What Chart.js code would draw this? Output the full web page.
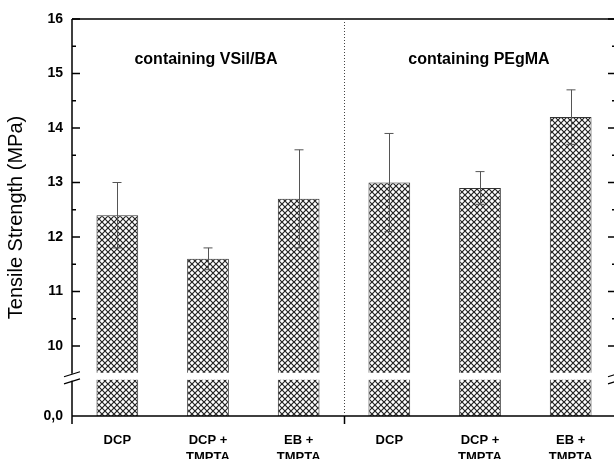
<!DOCTYPE html>
<html>
<head>
<meta charset="utf-8">
<script src="https://cdn.jsdelivr.net/npm/chart.js@4.4.1/dist/chart.umd.min.js"></script>
<style>
  html, body { margin: 0; padding: 0; background: #fff; overflow: hidden; }
  canvas { display: block; }
</style>
</head>
<body>
<canvas id="tensileChart" width="630" height="459"></canvas>
<script>
// === DATA ===
const categories = ["DCP", ["DCP +", "TMPTA"], ["EB +", "TMPTA"], "DCP", ["DCP +", "TMPTA"], ["EB +", "TMPTA"]];
const strength = [12.4, 11.6, 12.7, 13.0, 12.9, 14.2];
const strengthErr = [0.6, 0.2, 0.9, 0.9, 0.3, 0.5];
const groupLabels = ["containing VSil/BA", "containing PEgMA"];
const tickValues = [8.716, 10, 11, 12, 13, 14, 15, 16];
const tickLabels = ["0,0", "10", "11", "12", "13", "14", "15", "16"];
const minorTicks = [10.5, 11.5, 12.5, 13.5, 14.5, 15.5];
const breakLow = 9.38;
const breakHigh = 9.51;

// === HATCH PATTERN ===
function makeHatch() {
  const c = document.createElement("canvas");
  c.width = 6;
  c.height = 6;
  const p = c.getContext("2d");
  p.fillStyle = "#fff";
  p.fillRect(0, 0, 6, 6);
  p.strokeStyle = "#222";
  p.lineWidth = 1.2;
  p.beginPath();
  p.moveTo(-1, -1); p.lineTo(7, 7);
  p.moveTo(7, -1); p.lineTo(-1, 7);
  p.stroke();
  return p.createPattern(c, "repeat");
}
const ctx = document.getElementById("tensileChart").getContext("2d");
const hatch = makeHatch();

// === AXES, BREAK, ERROR BARS ===
const framePlugin = {
  id: "frame",
  afterDatasetsDraw(chart) {
    const c = chart.ctx;
    const a = chart.chartArea;
    const y = chart.scales.y;
    const meta = chart.getDatasetMeta(0);
    // white gap for the axis break
    const gTop = y.getPixelForValue(breakHigh);
    const gBot = y.getPixelForValue(breakLow);
    c.save();
    c.fillStyle = "#fff";
    c.fillRect(a.left + 1, gTop, a.right - a.left - 2, gBot - gTop);
    // error bars
    c.strokeStyle = "#555";
    c.lineWidth = 1;
    meta.data.forEach((bar, i) => {
      const x = Math.round(bar.x) + 0.5;
      const t = y.getPixelForValue(strength[i] + strengthErr[i]);
      const b = y.getPixelForValue(strength[i] - strengthErr[i]);
      c.beginPath();
      c.moveTo(x, t); c.lineTo(x, b);
      c.moveTo(x - 5, t); c.lineTo(x + 4, t);
      c.moveTo(x - 5, b); c.lineTo(x + 4, b);
      c.stroke();
    });
    c.restore();
  },
  afterDraw(chart) {
    const c = chart.ctx;
    const a = chart.chartArea;
    const y = chart.scales.y;
    const x = chart.scales.x;
    const gTop = y.getPixelForValue(breakHigh);
    const gBot = y.getPixelForValue(breakLow);
    c.save();
    c.strokeStyle = "#000";
    c.lineWidth = 1.5;
    // top and bottom frame
    c.beginPath();
    c.moveTo(a.left, a.top); c.lineTo(a.right, a.top);
    c.moveTo(a.left, a.bottom); c.lineTo(a.right, a.bottom);
    // side axes with break
    [a.left, a.right].forEach((px) => {
      c.moveTo(px, a.top); c.lineTo(px, gTop + 1);
      c.moveTo(px, gBot + 1); c.lineTo(px, a.bottom + 8);
    });
    c.stroke();
    // break slashes
    c.lineWidth = 1.2;
    c.beginPath();
    [a.left, a.right].forEach((px) => {
      c.moveTo(px - 8, gTop + 4); c.lineTo(px + 8, gTop - 1);
      c.moveTo(px - 8, gBot + 4); c.lineTo(px + 8, gBot - 1);
    });
    c.stroke();
    // inward ticks
    c.lineWidth = 1.5;
    c.beginPath();
    tickValues.slice(1).forEach((v) => {
      const py = y.getPixelForValue(v);
      c.moveTo(a.left, py); c.lineTo(a.left + 8, py);
      c.moveTo(a.right, py); c.lineTo(a.right - 8, py);
    });
    minorTicks.forEach((v) => {
      const py = y.getPixelForValue(v);
      c.moveTo(a.left, py); c.lineTo(a.left + 4, py);
      c.moveTo(a.right, py); c.lineTo(a.right - 4, py);
    });
    // group separator tick below axis
    const sep = Math.round((x.getPixelForValue(2) + x.getPixelForValue(3)) / 2) + 0.5;
    c.moveTo(sep, a.bottom); c.lineTo(sep, a.bottom + 8);
    c.stroke();
    // dotted separator
    c.lineWidth = 1;
    c.strokeStyle = "#444";
    c.setLineDash([1, 2]);
    c.beginPath();
    c.moveTo(sep, a.top); c.lineTo(sep, a.bottom);
    c.stroke();
    c.setLineDash([]);
    // group labels
    c.fillStyle = "#000";
    c.font = "bold 16px 'Liberation Sans', Arial, sans-serif";
    c.textAlign = "center";
    c.textBaseline = "middle";
    const ly = y.getPixelForValue(15.26);
    c.fillText(groupLabels[0], x.getPixelForValue(1) - 2, ly);
    c.fillText(groupLabels[1], x.getPixelForValue(4) - 1, ly);
    c.restore();
  },
};

// === CHART ===
const tensileChart = new Chart(ctx, {
  type: "bar",
  data: {
    labels: categories,
    datasets: [
      {
        data: strength,
        backgroundColor: hatch,
        borderColor: "#333",
        borderWidth: 1,
        barPercentage: 0.46,
        categoryPercentage: 1,
      },
    ],
  },
  options: {
    responsive: false,
    animation: false,
    layout: { padding: { top: 19, right: 14, left: 0, bottom: 0 } },
    plugins: {
      legend: { display: false },
      tooltip: { enabled: false },
    },
    scales: {
      y: {
        min: tickValues[0],
        max: 16,
        grid: { display: false, drawTicks: false },
        border: { display: false },
        afterFit: (s) => { s.width = 72; },
        afterBuildTicks: (s) => { s.ticks = tickValues.map((v) => ({ value: v })); },
        ticks: {
          padding: 9,
          color: "#000",
          font: { family: "'Liberation Sans', Arial, sans-serif", size: 14, weight: "bold" },
          callback: (v, i) => tickLabels[i],
        },
        title: {
          display: true,
          text: "Tensile Strength (MPa)",
          color: "#000",
          font: { family: "'Liberation Sans', Arial, sans-serif", size: 20 },
          padding: { top: 4, bottom: 0 },
        },
      },
      x: {
        grid: { display: false, drawTicks: false },
        border: { display: false },
        afterFit: (s) => { s.height = 43; },
        ticks: {
          padding: 16,
          maxRotation: 0,
          autoSkip: false,
          color: "#000",
          font: { family: "'Liberation Sans', Arial, sans-serif", size: 13, weight: "bold", lineHeight: 1.3 },
        },
      },
    },
  },
  plugins: [framePlugin],
});
</script>
</body>
</html>
